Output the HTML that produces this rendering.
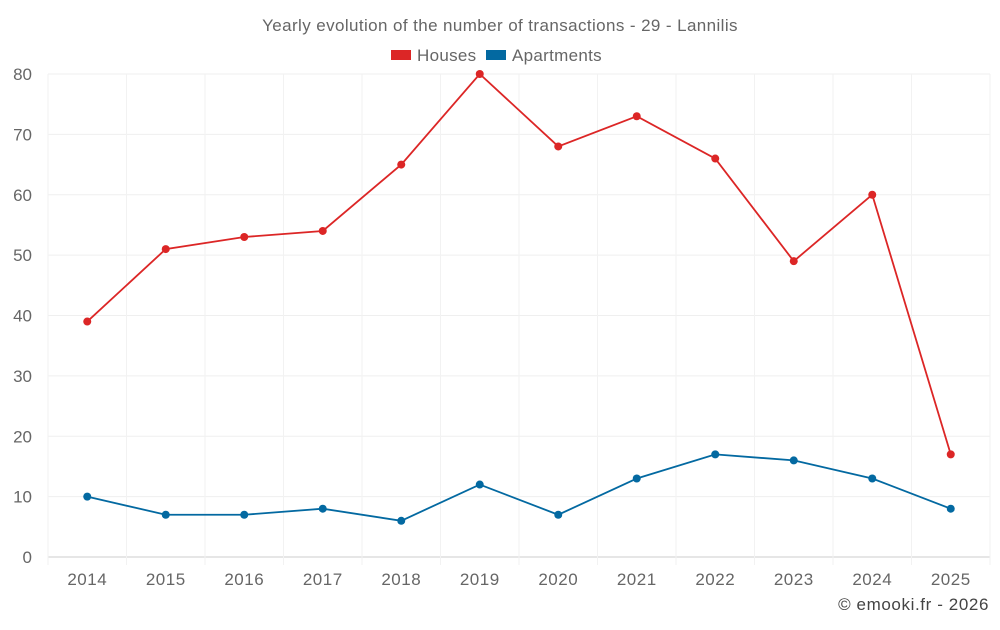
<!DOCTYPE html>
<html><head><meta charset="utf-8"><style>
body{margin:0;background:#fff;font-family:"Liberation Sans",sans-serif;}
svg text{font-family:"Liberation Sans",sans-serif;}
</style></head><body>
<svg id="chart" width="1000" height="625">
<text x="500" y="31" text-anchor="middle" font-size="17" letter-spacing="0.4" fill="#666">Yearly evolution of the number of transactions - 29 - Lannilis</text>
<g>
<g><rect x="391" y="50" width="20" height="10" fill="#dc2626"/><text x="417" y="61" font-size="17" letter-spacing="0.3" fill="#666">Houses</text></g>
<g><rect x="486" y="50" width="20" height="10" fill="#0369a1"/><text x="512" y="61" font-size="17" letter-spacing="0.3" fill="#666">Apartments</text></g>
</g>
<g id="grid"></g><g id="axes"></g><g id="series"></g>
<text x="989" y="610" text-anchor="end" font-size="17" letter-spacing="0.6" fill="#444">© emooki.fr - 2026</text>
</svg>
<script>
const years=["2014","2015","2016","2017","2018","2019","2020","2021","2022","2023","2024","2025"];
const houses=[39,51,53,54,65,80,68,73,66,49,60,17];
const apartments=[10,7,7,8,6,12,7,13,17,16,13,8];
const yTicks=[0,10,20,30,40,50,60,70,80];
const NS="http://www.w3.org/2000/svg";
const L=48,R=990,T=74,B=557,yMax=80;
const step=(R-L)/years.length;
const xS=i=>L+step*(i+0.5);
const yS=v=>B-(B-T)*v/yMax;
function mk(tag,attrs,parent){const e=document.createElementNS(NS,tag);for(const k in attrs)e.setAttribute(k,attrs[k]);parent.appendChild(e);return e;}
const grid=document.getElementById('grid'),axes=document.getElementById('axes'),series=document.getElementById('series');
yTicks.forEach(v=>{
 const l=mk('line',{x1:L,x2:R,y1:yS(v),y2:yS(v),stroke:v===0?'#ccc':'#efefef'},grid);
 
 
 const t=mk('text',{x:32,y:yS(v)+6,'text-anchor':'end','font-size':17,fill:'#666'},axes);
 t.textContent=v;
 
 
});
for(let i=0;i<=years.length;i++){
 const l=mk('line',{x1:L+step*i,x2:L+step*i,y1:T,y2:B+8,stroke:'#f2f2f2'},grid);
 
 
}
years.forEach((y,i)=>{
 const t=mk('text',{x:xS(i),y:585,'text-anchor':'middle','font-size':17,'letter-spacing':0.5,fill:'#666'},axes);
 t.textContent=y;
 
 
});
function draw(data,color,name){
 const p=mk('polyline',{points:data.map((v,i)=>xS(i)+','+yS(v)).join(' '),fill:'none',stroke:color,'stroke-width':1.8},series);
 
 
 data.forEach((v,i)=>{
  const c=mk('circle',{cx:xS(i),cy:yS(v),r:4,fill:color},series);
  
  
 });
}
draw(houses,'#dc2626','houses');
draw(apartments,'#0369a1','apartments');
</script>
</body></html>
